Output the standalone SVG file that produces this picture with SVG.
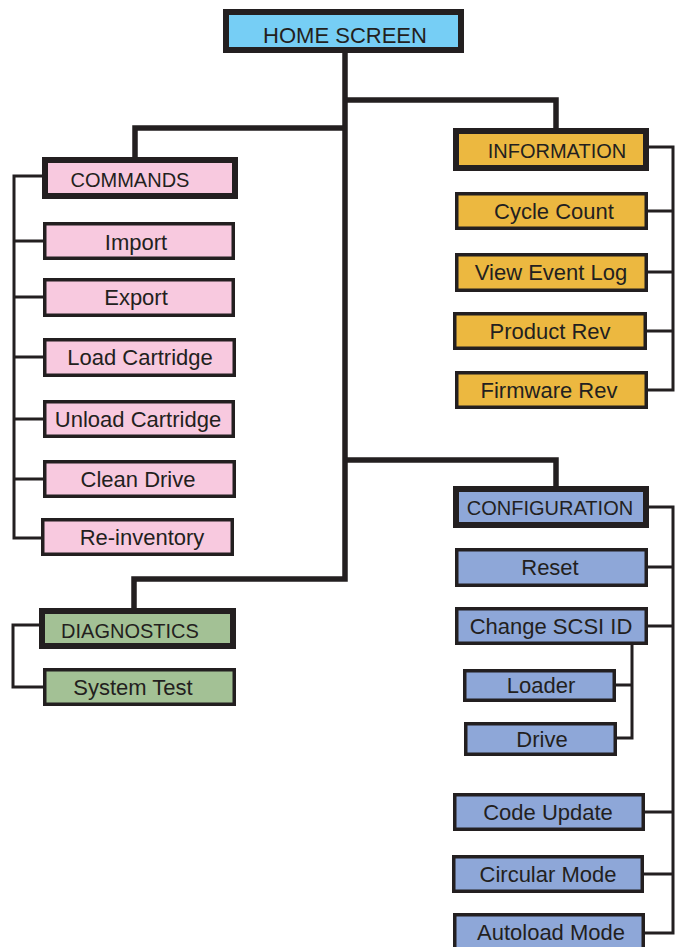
<svg xmlns="http://www.w3.org/2000/svg" width="678" height="947" viewBox="0 0 678 947">
<style>
.thick{stroke:#231f20;stroke-width:6}
.thin{stroke:#231f20;stroke-width:3.5}
.home{fill:#76cef5}
.pink{fill:#f8c9df}
.gold{fill:#ecb840}
.green{fill:#a3c195}
.blue{fill:#8ea7d8}
text{font-family:"Liberation Sans",Arial,sans-serif;font-size:22px;fill:#231f20;text-anchor:middle}
text.hd{font-size:20px}
.trunk{fill:none;stroke:#231f20;stroke-width:5.5}
.br{fill:none;stroke:#231f20;stroke-width:3}
</style>
<rect width="678" height="947" fill="#ffffff"/>
<g id="connectors">
<path class="trunk" d="M345,53 V579 H134 V608"/>
<path class="trunk" d="M345,100 H556 V128"/>
<path class="trunk" d="M345,128 H135 V157"/>
<path class="trunk" d="M345,460 H556 V486"/>
<path class="br" d="M42,176 H14 V538 H41 M14,241 H43 M14,297 H43 M14,357 H43 M14,419 H43 M14,479 H43"/>
<path class="br" d="M39,625 H13 V687 H43"/>
<path class="br" d="M649,147 H673 V390 H648 M673,211 H648 M673,272 H648 M673,331 H647"/>
<path class="br" d="M649,507 H673 V933 H645 M673,567 H648 M673,626 H648 M673,812 H645 M673,874 H644"/>
<path class="br" d="M632,645 V738 H617 M616,685 H632"/>
</g>
<g id="home"><rect class="home thick" x="226" y="12" width="235" height="38"/><text x="345" y="43">HOME SCREEN</text></g>
<g id="commands"><rect class="pink thick" x="45" y="160" width="190" height="36"/><text class="hd" x="130" y="187">COMMANDS</text></g>
<g id="import"><rect class="pink thin" x="44.75" y="223.75" width="188.5" height="34.5"/><text x="136" y="250">Import</text></g>
<g id="export"><rect class="pink thin" x="44.75" y="279.75" width="188.5" height="35.5"/><text x="136" y="305">Export</text></g>
<g id="load"><rect class="pink thin" x="44.75" y="339.75" width="189.5" height="35.5"/><text x="140" y="365">Load Cartridge</text></g>
<g id="unload"><rect class="pink thin" x="44.75" y="401.75" width="188.5" height="34.5"/><text x="138" y="427">Unload Cartridge</text></g>
<g id="clean"><rect class="pink thin" x="44.75" y="461.75" width="189.5" height="34.5"/><text x="138" y="487">Clean Drive</text></g>
<g id="reinventory"><rect class="pink thin" x="42.75" y="519.75" width="189.5" height="34.5"/><text x="142" y="545">Re-inventory</text></g>
<g id="diagnostics"><rect class="green thick" x="42" y="611" width="191" height="35"/><text class="hd" x="130" y="638">DIAGNOSTICS</text></g>
<g id="systemtest"><rect class="green thin" x="44.75" y="669.75" width="189.5" height="34.5"/><text x="133" y="695">System Test</text></g>
<g id="information"><rect class="gold thick" x="456" y="131" width="190" height="37"/><text class="hd" x="557" y="158">INFORMATION</text></g>
<g id="cyclecount"><rect class="gold thin" x="456.75" y="193.75" width="189.5" height="34.5"/><text x="554" y="219">Cycle Count</text></g>
<g id="vieweventlog"><rect class="gold thin" x="456.75" y="254.75" width="189.5" height="35.5"/><text x="551" y="280">View Event Log</text></g>
<g id="productrev"><rect class="gold thin" x="454.75" y="313.75" width="190.5" height="34.5"/><text x="550" y="339">Product Rev</text></g>
<g id="firmwarerev"><rect class="gold thin" x="456.75" y="372.75" width="189.5" height="34.5"/><text x="549" y="398">Firmware Rev</text></g>
<g id="configuration"><rect class="blue thick" x="456" y="489" width="190" height="36"/><text class="hd" x="550" y="515">CONFIGURATION</text></g>
<g id="reset"><rect class="blue thin" x="456.75" y="549.75" width="189.5" height="35.5"/><text x="550" y="575">Reset</text></g>
<g id="changescsi"><rect class="blue thin" x="456.75" y="608.75" width="189.5" height="34.5"/><text x="551" y="634">Change SCSI ID</text></g>
<g id="loader"><rect class="blue thin" x="464.75" y="670.75" width="149.5" height="29.5"/><text x="541" y="693">Loader</text></g>
<g id="drive"><rect class="blue thin" x="465.75" y="723.75" width="149.5" height="30.5"/><text x="542" y="747">Drive</text></g>
<g id="codeupdate"><rect class="blue thin" x="454.75" y="794.75" width="188.5" height="34.5"/><text x="548" y="820">Code Update</text></g>
<g id="circularmode"><rect class="blue thin" x="453.75" y="856.75" width="188.5" height="34.5"/><text x="548" y="882">Circular Mode</text></g>
<g id="autoloadmode"><rect class="blue thin" x="454.75" y="914.75" width="188.5" height="36"/><text x="551" y="940">Autoload Mode</text></g>
</svg>
